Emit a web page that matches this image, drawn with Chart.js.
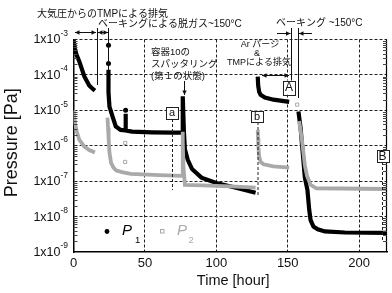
<!DOCTYPE html>
<html><head><meta charset="utf-8">
<script src="https://cdn.jsdelivr.net/npm/chart.js@4/dist/chart.umd.min.js"></script>
<style>html,body{margin:0;padding:0;background:#fff;}#wrap{width:392px;height:293px;position:relative;}</style>
</head><body><div id="wrap"><canvas id="c" width="392" height="293"></canvas></div>
<script>
// ---- data (time in hours, pressure in Pa) ----
const p1Seg1Time = [0, 1, 2, 4, 7.6, 11, 13, 15];
const p1Seg1Pa   = [1.0e-3, 5.6e-4, 3.8e-4, 2.45e-4, 9.1e-5, 5.0e-5, 4.2e-5, 3.6e-5];
const p1Seg2Time = [24.5, 24.5, 25.2, 26, 27.3, 29.6, 33, 36.4, 36.5, 36.6, 41, 55, 70, 76.3, 76.5, 77.3, 78, 80, 83, 89.6, 100, 113, 127.5];
const p1Seg2Pa   = [1.4e-4, 3.2e-5, 1.26e-5, 1.0e-5, 6.8e-6, 3.5e-6, 2.8e-6, 2.7e-6, 8.0e-6, 2.7e-6, 2.5e-6, 2.4e-6, 2.35e-6, 2.35e-6, 2.5e-5, 2.5e-6, 7.9e-7, 4.0e-7, 2.2e-7, 1.26e-7, 8.9e-8, 6.6e-8, 4.7e-8];
const p1Seg3Time = [129, 129.3, 130, 131, 134, 140, 151];
const p1Seg3Pa   = [8.9e-5, 5.0e-5, 3.3e-5, 2.75e-5, 2.3e-5, 2.0e-5, 1.74e-5];
const p1Seg4Time = [157.5, 159, 160.5, 162, 163.8, 165, 166, 168, 171, 176, 190, 220];
const p1Seg4Pa   = [9.3e-6, 3.2e-6, 6.3e-7, 1.26e-7, 5.6e-8, 1.6e-8, 7.9e-9, 5.2e-9, 4.4e-9, 3.8e-9, 3.55e-9, 3.47e-9];
const p1DotTime  = [24.5, 24.5, 36.5];
const p1DotPa    = [6.9e-4, 2.1e-4, 1.0e-5];

const p2Seg1Time = [0, 1, 2, 4, 7.6, 11, 15];
const p2Seg1Pa   = [1.0e-5, 4.5e-6, 2.8e-6, 1.48e-6, 9.5e-7, 7.6e-7, 6.5e-7];
const p2Seg2Time = [23.8, 24.2, 24.6, 25.2, 26.3, 28, 30, 34, 40, 60, 76, 76.4, 76.6, 77, 78, 90, 110, 127.5];
const p2Seg2Pa   = [6.2e-6, 3.2e-6, 1.6e-6, 6.3e-7, 3.3e-7, 2.4e-7, 2.0e-7, 1.8e-7, 1.6e-7, 1.48e-7, 1.41e-7, 2.5e-6, 1.26e-6, 2.5e-7, 7.9e-8, 7.6e-8, 7.1e-8, 6.6e-8];
const p2Seg3Time = [129, 129.2, 129.5, 130, 131, 133, 140, 151];
const p2Seg3Pa   = [2.8e-6, 1.66e-6, 8.9e-7, 5.0e-7, 3.5e-7, 3.0e-7, 2.6e-7, 2.4e-7];
const p2Seg4Time = [158, 160, 161, 162, 163.5, 166, 170, 220];
const p2Seg4Pa   = [5.0e-6, 1.4e-6, 6.3e-7, 2.8e-7, 1.4e-7, 7.9e-8, 6.3e-8, 6.0e-8];
const p2IsolatedTime = [36.2, 36.2, 156.6];
const p2IsolatedPa   = [1.2e-6, 3.5e-7, 1.45e-5];

const xTickValues = [0, 50, 100, 150, 200];
const yDecades = [-9, -8, -7, -6, -5, -4, -3];
const seriesNames = ['P', 'P'];
const seriesSubs = ['1', '2'];

// ---- build datasets ----
function joinSegments(segs) {
  const out = [];
  segs.forEach((s, i) => {
    if (i > 0) out.push({x: s[0][0], y: null});
    s[0].forEach((t, j) => out.push({x: t, y: s[1][j]}));
  });
  return out;
}
const p1Data = joinSegments([[p1Seg1Time, p1Seg1Pa], [p1Seg2Time, p1Seg2Pa], [p1Seg3Time, p1Seg3Pa], [p1Seg4Time, p1Seg4Pa]]);
const p2Data = joinSegments([[p2Seg1Time, p2Seg1Pa], [p2Seg2Time, p2Seg2Pa], [p2Seg3Time, p2Seg3Pa], [p2Seg4Time, p2Seg4Pa]]);
const p2Iso = p2IsolatedTime.map((t, i) => ({x: t, y: p2IsolatedPa[i]}));
const p1Dots = p1DotTime.map((t, i) => ({x: t, y: p1DotPa[i]}));

const BLACK = '#000';
const GREY = '#a9a9a9';
const FONT = "'Liberation Sans', Arial, 'Noto Sans CJK JP', sans-serif";
const JFONT = "'Liberation Sans', 'Noto Sans CJK JP', sans-serif";

function arrowHead(ctx, x1, y1, x2, y2, size) {
  const ang = Math.atan2(y2 - y1, x2 - x1);
  ctx.beginPath();
  ctx.moveTo(x2, y2);
  ctx.lineTo(x2 - size * Math.cos(ang - 0.45), y2 - size * Math.sin(ang - 0.45));
  ctx.lineTo(x2 - size * Math.cos(ang + 0.45), y2 - size * Math.sin(ang + 0.45));
  ctx.closePath();
  ctx.fill();
}
function arrow(ctx, x1, y1, x2, y2, both) {
  ctx.beginPath(); ctx.moveTo(x1, y1); ctx.lineTo(x2, y2); ctx.stroke();
  arrowHead(ctx, x1, y1, x2, y2, 5);
  if (both) arrowHead(ctx, x2, y2, x1, y1, 5);
}
function vline(ctx, x, y1, y2, dash) {
  ctx.setLineDash(dash || []);
  ctx.beginPath(); ctx.moveTo(x, y1); ctx.lineTo(x, y2); ctx.stroke();
  ctx.setLineDash([]);
}
function boxLabel(ctx, cx, cy, w, h, txt, size) {
  ctx.fillStyle = '#fff';
  ctx.fillRect(cx - w / 2, cy - h / 2, w, h);
  ctx.strokeStyle = '#222'; ctx.lineWidth = 1;
  ctx.strokeRect(Math.round(cx - w / 2) + 0.5, Math.round(cy - h / 2) + 0.5, w, h);
  ctx.fillStyle = '#111';
  ctx.font = size + 'px ' + FONT;
  ctx.textAlign = 'center'; ctx.textBaseline = 'middle';
  ctx.fillText(txt, cx, cy + 0.5);
}

const decor = {
  id: 'decor',
  afterDraw(chart) {
    const {ctx, chartArea: a, scales: {x, y}} = chart;
    ctx.save();
    // right frame
    ctx.strokeStyle = '#000'; ctx.lineWidth = 1.2;
    ctx.beginPath(); ctx.moveTo(a.right - 0.5, a.top); ctx.lineTo(a.right - 0.5, a.bottom); ctx.stroke();
    // minor log ticks (left and right, inside)
    ctx.strokeStyle = '#444'; ctx.lineWidth = 1;
    ctx.beginPath();
    for (const e of yDecades.slice(0, -1)) {
      for (let m = 2; m <= 9; m++) {
        const py = Math.round(y.getPixelForValue(m * Math.pow(10, e))) + 0.5;
        ctx.moveTo(a.left, py); ctx.lineTo(a.left + 4, py);
        ctx.moveTo(a.right - 4, py); ctx.lineTo(a.right, py);
      }
    }
    ctx.stroke();
    // y tick labels 1x10^n
    ctx.fillStyle = '#111';
    for (const e of yDecades) {
      const py = y.getPixelForValue(Math.pow(10, e));
      ctx.font = '12.5px ' + FONT; ctx.textAlign = 'right'; ctx.textBaseline = 'middle';
      ctx.fillText('1x10', 60.5, py + 0.5);
      ctx.font = '8.5px ' + FONT; ctx.textAlign = 'left';
      ctx.fillText(String(e), 60.5, py - 6);
    }
    // x tick labels
    ctx.font = '13px ' + FONT; ctx.textAlign = 'center'; ctx.textBaseline = 'middle';
    for (const t of xTickValues) ctx.fillText(String(t), x.getPixelForValue(t), 263.5);
    // axis titles
    ctx.font = '14.5px ' + FONT;
    ctx.fillText('Time [hour]', (a.left + a.right) / 2 + 3, 280.5);
    ctx.save();
    ctx.translate(12.5, (a.top + a.bottom) / 2 - 3);
    ctx.rotate(-Math.PI / 2);
    ctx.font = '18px ' + FONT;
    ctx.fillText('Pressure [Pa]', 0, 0);
    ctx.restore();

    // ---- annotations ----
    ctx.strokeStyle = '#111'; ctx.fillStyle = '#111'; ctx.lineWidth = 1;
    ctx.font = '10px ' + JFONT; ctx.textAlign = 'left'; ctx.textBaseline = 'middle';
    ctx.fillText('大気圧からのTMPによる排気', 37, 14);
    ctx.fillText('ベーキングによる脱ガス~150°C', 98, 24.5);
    ctx.fillText('ベーキング ~150°C', 276, 23.5);
    // arrows at top-left
    arrow(ctx, 75, 32.5, 96, 32.5, true);
    arrow(ctx, 98, 32.5, 108, 32.5, true);
    vline(ctx, 97.5, 28, 85);
    vline(ctx, 108.5, 28, 70);
    // baking arrows at top-right
    arrow(ctx, 277, 33.5, 290.5, 33.5, false);
    arrow(ctx, 312, 33.5, 299, 33.5, false);
    vline(ctx, 291.5, 28, 93);
    vline(ctx, 298.5, 28, 98);
    // sputtering note
    ctx.font = '9.5px ' + JFONT;
    ctx.fillText('容器10の', 151, 52);
    ctx.fillText('スパッタリング', 151, 64);
    ctx.fillText('(第１の状態)', 151, 76);
    arrow(ctx, 184.5, 81, 184.5, 95, false);
    // Ar purge note
    ctx.font = '9px ' + JFONT; ctx.textAlign = 'center';
    ctx.fillText('Ar パージ', 260, 45);
    ctx.fillText('&', 257, 54);
    ctx.fillText('TMPによる排気', 259, 63);
    arrow(ctx, 262, 75.5, 289, 75.5, true);
    // dashed reference lines
    ctx.strokeStyle = '#222';
    vline(ctx, 172.5, 119, 190, [3, 2]);
    vline(ctx, 258, 122, 196, [3, 2]);
    vline(ctx, 382.5, 162, 242, [3, 2]);
    // boxed labels
    boxLabel(ctx, 172, 112.5, 12, 12, 'a', 11);
    boxLabel(ctx, 257, 116, 12, 11, 'b', 11);
    boxLabel(ctx, 289, 87.5, 12, 14, 'A', 12);
    boxLabel(ctx, 382.5, 156, 12, 12, 'B', 12);

    // ---- legend ----
    ctx.fillStyle = BLACK;
    ctx.beginPath(); ctx.arc(107, 231.5, 2.4, 0, Math.PI * 2); ctx.fill();
    ctx.textAlign = 'left'; ctx.textBaseline = 'middle';
    ctx.font = 'italic 15px ' + FONT;
    ctx.fillText(seriesNames[0], 122, 231);
    ctx.font = '9.5px ' + FONT;
    ctx.fillText(seriesSubs[0], 135, 240);
    ctx.strokeStyle = GREY; ctx.lineWidth = 1;
    ctx.strokeRect(160.5, 229.5, 3.5, 3.5);
    ctx.fillStyle = GREY;
    ctx.font = 'italic 15px ' + FONT;
    ctx.fillText(seriesNames[1], 177, 231);
    ctx.font = '9.5px ' + FONT;
    ctx.fillText(seriesSubs[1], 188.5, 240);
    ctx.restore();
  }
};

new Chart(document.getElementById('c'), {
  type: 'line',
  data: {
    datasets: [
      {label: 'P2', data: p2Data, borderColor: GREY, backgroundColor: '#fff', borderWidth: 3.8,
       pointRadius: 0, spanGaps: false, tension: 0, order: 0},
      {label: 'P2 isolated', data: p2Iso, showLine: false, pointStyle: 'rect', pointRadius: 2.2,
       borderColor: GREY, backgroundColor: '#fff', borderWidth: 1, order: 0},
      {label: 'P1', data: p1Data, borderColor: BLACK, backgroundColor: BLACK, borderWidth: 4.2,
       pointRadius: 0, spanGaps: false, tension: 0, order: 1},
      {label: 'P1 dots', data: p1Dots, showLine: false, pointRadius: 2.5, pointBorderWidth: 0,
       backgroundColor: BLACK, borderColor: BLACK, order: 1}
    ]
  },
  options: {
    responsive: false,
    animation: false,
    devicePixelRatio: 1,
    layout: {padding: {left: 0, top: 39.5, right: 1, bottom: 0}},
    plugins: {legend: {display: false}, tooltip: {enabled: false}},
    scales: {
      x: {
        type: 'linear', min: 0, max: 219.5,
        afterBuildTicks: s => { s.ticks = xTickValues.map(v => ({value: v})); },
        afterFit: s => { s.height = 41; },
        ticks: {display: false},
        grid: {drawTicks: false, color: c => c.tick && c.tick.value === 0 ? 'rgba(0,0,0,0)' : '#222',
               lineWidth: 1},
        border: {display: true, color: '#000', width: 1.5, dash: [3, 2]}
      },
      y: {
        type: 'logarithmic', min: 1e-9, max: 1e-3,
        afterBuildTicks: s => { s.ticks = yDecades.map(e => ({value: Math.pow(10, e)})); },
        afterFit: s => { s.width = 73.5; },
        ticks: {display: false},
        grid: {drawTicks: false, color: c => c.tick && c.tick.value < 2e-9 ? 'rgba(0,0,0,0)' : '#222',
               lineWidth: 1},
        border: {display: true, color: '#000', width: 1.5, dash: [3, 2]}
      }
    }
  },
  plugins: [decor]
});
</script>
</body></html>
